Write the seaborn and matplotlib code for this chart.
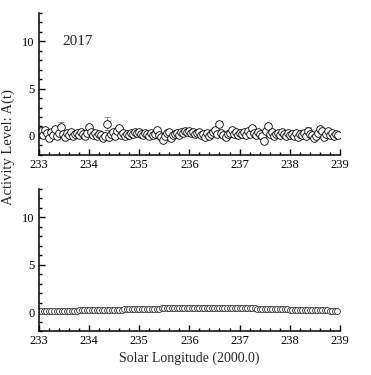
import numpy as np
import matplotlib
matplotlib.use("Agg")
from matplotlib import pyplot as plt
from matplotlib.ticker import MultipleLocator
import seaborn as sns

# --- 2017 observed activity (top panel) ---
top_lon = [
    233.00, 233.04, 233.08, 233.12, 233.16, 233.20, 233.24, 233.28, 233.32, 233.36,
    233.40, 233.44, 233.48, 233.52, 233.56, 233.60, 233.64, 233.68, 233.72, 233.76,
    233.80, 233.84, 233.88, 233.92, 233.96,
    234.00, 234.04, 234.08, 234.12, 234.16, 234.20, 234.24, 234.28, 234.32, 234.36,
    234.40, 234.44, 234.48, 234.52, 234.56, 234.60, 234.64, 234.68, 234.72, 234.76,
    234.80, 234.84, 234.88, 234.92, 234.96,
    235.00, 235.04, 235.08, 235.12, 235.16, 235.20, 235.24, 235.28, 235.32, 235.36,
    235.40, 235.44, 235.48, 235.52, 235.56, 235.60, 235.64, 235.68, 235.72, 235.76,
    235.80, 235.84, 235.88, 235.92, 235.96,
    236.00, 236.04, 236.08, 236.12, 236.16, 236.20, 236.24, 236.28, 236.32, 236.36,
    236.40, 236.44, 236.48, 236.52, 236.56, 236.60, 236.64, 236.68, 236.72, 236.76,
    236.80, 236.84, 236.88, 236.92, 236.96,
    237.00, 237.04, 237.08, 237.12, 237.16, 237.20, 237.24, 237.28, 237.32, 237.36,
    237.40, 237.44, 237.48, 237.52, 237.56, 237.60, 237.64, 237.68, 237.72, 237.76,
    237.80, 237.84, 237.88, 237.92, 237.96,
    238.00, 238.04, 238.08, 238.12, 238.16, 238.20, 238.24, 238.28, 238.32, 238.36,
    238.40, 238.44, 238.48, 238.52, 238.56, 238.60, 238.64, 238.68, 238.72, 238.76,
    238.80, 238.84, 238.88, 238.92, 238.96,
]
top_act = [
    0.2, 0.5, 0.1, 0.6, 0.3, -0.2, 0.4, 0.1, 0.7, 0.0,
    0.3, 0.9, 0.2, -0.1, 0.3, 0.1, 0.4, 0.0, 0.2, 0.3,
    0.1, 0.4, 0.2, 0.0, 0.3,
    0.95, 0.4, 0.1, 0.3, 0.0, 0.2, 0.1, -0.2, 0.0, 1.3,
    -0.1, 0.2, 0.4, 0.0, 0.5, 0.85, 0.1, 0.3, 0.0, 0.2,
    0.1, 0.3, 0.2, 0.4, 0.3,
    0.4, 0.2, 0.1, 0.3, 0.2, 0.0, 0.3, 0.1, 0.2, 0.6,
    0.1, -0.1, -0.4, 0.0, 0.3, 0.4, -0.2, 0.1, 0.2, 0.3,
    0.1, 0.4, 0.3, 0.5, 0.4,
    0.5, 0.3, 0.4, 0.2, 0.3, 0.4, 0.1, 0.2, -0.1, 0.3,
    0.0, 0.2, 0.4, 0.6, 0.2, 1.25, 0.3, 0.1, -0.1, 0.2,
    0.3, 0.6, 0.2, 0.4, 0.1,
    0.3, 0.2, 0.4, 0.1, 0.5, 0.2, 0.85, 0.3, 0.1, 0.4,
    0.2, 0.0, -0.5, 0.5, 1.05, 0.2, 0.4, 0.0, 0.2, 0.3,
    0.1, 0.4, 0.2, 0.0, 0.3,
    0.1, 0.2, 0.0, 0.3, -0.1, 0.2, 0.1, 0.3, 0.0, 0.55,
    0.2, 0.1, -0.2, 0.0, 0.3, 0.75, 0.5, -0.1, 0.2, 0.5,
    0.1, 0.3, 0.0, 0.2, 0.1,
]
# points whose error bars stick out of the circles
err_lon = [233.20, 233.44, 234.36, 236.60, 237.56, 238.36]
err_act = [0.0, 0.9, 1.3, 1.25, 1.05, 0.55]
err_val = [0.5, 0.55, 0.65, 0.3, 0.25, 0.35]

# --- model (bottom panel) ---
mod_lon = [
    233.00, 233.05, 233.10, 233.15, 233.20, 233.25, 233.30, 233.35, 233.40, 233.45,
    233.50, 233.55, 233.60, 233.65, 233.70, 233.75, 233.80, 233.85, 233.90, 233.95,
    234.00, 234.05, 234.10, 234.15, 234.20, 234.25, 234.30, 234.35, 234.40, 234.45,
    234.50, 234.55, 234.60, 234.65, 234.70, 234.75, 234.80, 234.85, 234.90, 234.95,
    235.00, 235.05, 235.10, 235.15, 235.20, 235.25, 235.30, 235.35, 235.40, 235.45,
    235.50, 235.55, 235.60, 235.65, 235.70, 235.75, 235.80, 235.85, 235.90, 235.95,
    236.00, 236.05, 236.10, 236.15, 236.20, 236.25, 236.30, 236.35, 236.40, 236.45,
    236.50, 236.55, 236.60, 236.65, 236.70, 236.75, 236.80, 236.85, 236.90, 236.95,
    237.00, 237.05, 237.10, 237.15, 237.20, 237.25, 237.30, 237.35, 237.40, 237.45,
    237.50, 237.55, 237.60, 237.65, 237.70, 237.75, 237.80, 237.85, 237.90, 237.95,
    238.00, 238.05, 238.10, 238.15, 238.20, 238.25, 238.30, 238.35, 238.40, 238.45,
    238.50, 238.55, 238.60, 238.65, 238.70, 238.75, 238.80, 238.85, 238.90, 238.95,
]
mod_act = [
    0.10, 0.10, 0.11, 0.11, 0.12, 0.12, 0.13, 0.13, 0.14, 0.14,
    0.15, 0.15, 0.16, 0.16, 0.17, 0.17, 0.18, 0.18, 0.19, 0.19,
    0.20, 0.20, 0.21, 0.22, 0.22, 0.23, 0.24, 0.24, 0.25, 0.26,
    0.26, 0.27, 0.28, 0.28, 0.29, 0.30, 0.30, 0.31, 0.32, 0.32,
    0.33, 0.34, 0.34, 0.35, 0.36, 0.36, 0.37, 0.38, 0.38, 0.39,
    0.40, 0.40, 0.41, 0.42, 0.42, 0.43, 0.43, 0.44, 0.44, 0.45,
    0.45, 0.46, 0.46, 0.47, 0.47, 0.47, 0.48, 0.48, 0.48, 0.48,
    0.48, 0.48, 0.47, 0.47, 0.47, 0.46, 0.46, 0.45, 0.45, 0.44,
    0.44, 0.43, 0.42, 0.42, 0.41, 0.40, 0.39, 0.38, 0.38, 0.37,
    0.36, 0.35, 0.34, 0.33, 0.33, 0.32, 0.31, 0.30, 0.29, 0.29,
    0.28, 0.27, 0.26, 0.26, 0.25, 0.24, 0.23, 0.23, 0.22, 0.21,
    0.21, 0.20, 0.19, 0.19, 0.18, 0.18, 0.17, 0.17, 0.16, 0.16,
]

sns.set_style("ticks")
plt.rcParams['font.family'] = ['Liberation Serif', 'DejaVu Serif']

fig = plt.figure(figsize=(3.71, 3.75), dpi=100)
ax1 = fig.add_axes([0.105, 0.587, 0.811, 0.379])
ax2 = fig.add_axes([0.105, 0.117, 0.811, 0.379])


def style_axis(ax):
    ax.set_xlim(233, 239)
    ax.set_ylim(-2, 13)
    ax.xaxis.set_major_locator(MultipleLocator(1))
    ax.xaxis.set_minor_locator(MultipleLocator(0.2))
    ax.yaxis.set_major_locator(MultipleLocator(5))
    ax.yaxis.set_minor_locator(MultipleLocator(1))
    ax.tick_params(which='both', direction='in', labelsize=9, width=1.0,
                   colors='black', pad=3)
    ax.tick_params(which='major', length=4)
    ax.tick_params(which='minor', length=2)
    sns.despine(ax=ax)
    for s in ['left', 'bottom']:
        ax.spines[s].set_linewidth(1.1)
        ax.spines[s].set_color('black')
    ax.set_xlabel('')
    ax.set_ylabel('')


# top panel
ax1.errorbar(err_lon, err_act, yerr=err_val, fmt='none', ecolor='#888888',
             elinewidth=0.7, capsize=2.5, capthick=0.7, zorder=1)
sns.scatterplot(x=top_lon, y=top_act, ax=ax1, marker='o', s=30,
                facecolor='white', edgecolor='black', linewidth=0.6, zorder=2)
ax1.text(233.46, 10, '2017', fontsize=11, va='center')
style_axis(ax1)

# bottom panel
ax2.errorbar(mod_lon, mod_act, yerr=0.18, fmt='none', ecolor='#666666',
             elinewidth=0.7, zorder=1)
sns.scatterplot(x=mod_lon, y=mod_act, ax=ax2, marker='o', s=18,
                facecolor='white', edgecolor='#333333', linewidth=0.6, zorder=2)
style_axis(ax2)
ax2.set_xlabel('Solar Longitude (2000.0)', fontsize=10, labelpad=3)

fig.text(0.022, 0.608, 'Activity Level: A(t)', rotation=90, fontsize=10.5,
         va='center', ha='center')

fig.savefig('out.png', dpi=100)
